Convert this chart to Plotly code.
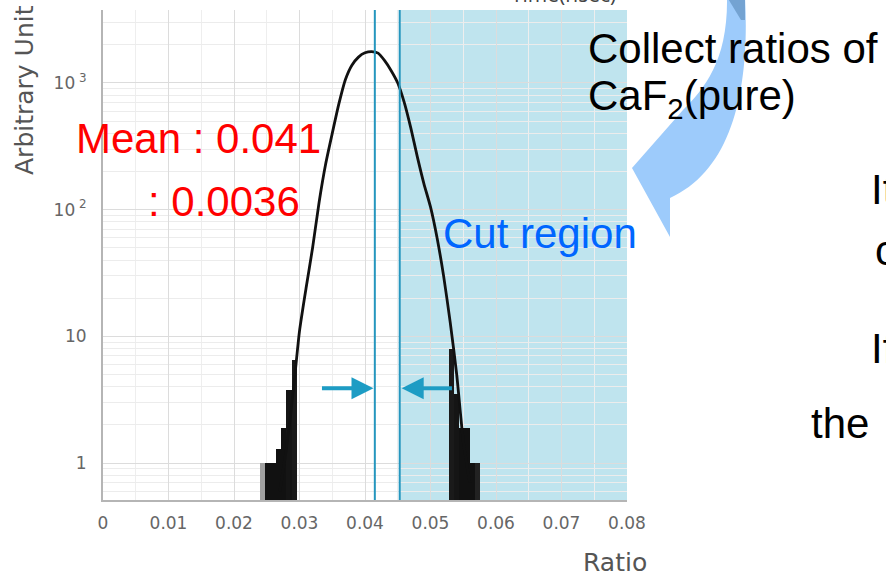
import plotly.graph_objects as go
import numpy as np

# ---------------- data ----------------
ratio = [0.027, 0.028, 0.029, 0.030, 0.031, 0.032, 0.033, 0.034, 0.035, 0.036,
         0.037, 0.038, 0.039, 0.040, 0.041, 0.042, 0.043, 0.044, 0.045, 0.046,
         0.047, 0.048, 0.049, 0.050, 0.051, 0.052, 0.053, 0.054, 0.055, 0.056]
counts = [0.6, 1.3, 3.5, 11, 24, 50, 115, 230, 400, 680,
          1060, 1380, 1600, 1730, 1770, 1720, 1500, 1250, 1000, 700,
          440, 260, 160, 105, 60, 30, 13, 5, 1.5, 0.7]

# tail bins (width 0.0008) drawn as thick histogram steps
tail_ratio = [0.0244, 0.0252, 0.0260, 0.0268, 0.0276, 0.0284, 0.0292,
              0.0532, 0.0540, 0.0548, 0.0556, 0.0564, 0.0572]
tail_counts = [1, 1, 1, 1.3, 1.9, 3.8, 6.5,
               8, 3.5, 1.9, 1.9, 1, 1]
tail_colors = ["#a0a0a0", "#111111", "#111111", "#111111", "#111111", "#151515", "#1a1a1a",
               "#1a1a1a", "#151515", "#111111", "#111111", "#111111", "#222222"]

cut_low = 0.0415
cut_high = 0.0453
x_max = 0.08
arrow_level = 3.9
arrow_left_tail = 0.0332
arrow_right_tail = 0.0535

x_ticks = [0, 0.01, 0.02, 0.03, 0.04, 0.05, 0.06, 0.07, 0.08]
x_ticktext = ["0", "0.01", "0.02", "0.03", "0.04", "0.05", "0.06", "0.07", "0.08"]
y_ticks = [1, 10, 100, 1000]
y_ticktext = ["1", "10", "10<sup> 2</sup>", "10<sup> 3</sup>"]
y_minor = [0.6, 0.7, 0.8, 0.9, 2, 3, 4, 5, 6, 7, 8, 9, 20, 30, 40, 50, 60, 70, 80, 90,
           200, 300, 400, 500, 600, 700, 800, 900, 2000, 3000]

# ---------------- geometry helpers ----------------
W, H = 886, 573
L, R, T, B = 103, 627, 10, 500


def px(x):
    return (x - L) / (R - L)


def py(y):
    return (B - y) / (B - T)


fig = go.Figure()

fig.add_trace(go.Bar(x=tail_ratio, y=tail_counts, width=0.0008,
                     marker=dict(color=tail_colors, line=dict(width=0)),
                     showlegend=False, hoverinfo="skip"))
fig.add_trace(go.Scatter(x=ratio, y=counts, mode="lines",
                         line=dict(color="#111111", width=2.8, shape="spline", smoothing=0.6),
                         showlegend=False))

# cut region shading
fig.add_shape(type="rect", xref="x", yref="paper", x0=cut_high, x1=x_max, y0=0, y1=1,
              fillcolor="#bfe4ee", line=dict(width=0), layer="below")
for xv in (cut_low, cut_high):
    fig.add_shape(type="line", xref="x", yref="paper", x0=xv, x1=xv, y0=0, y1=1,
                  line=dict(color="#2596be", width=2))

# arrows pointing to the cut lines
ylog = np.log10(arrow_level)
fig.add_annotation(x=cut_low - 0.0002, y=ylog, ax=arrow_left_tail, ay=ylog,
                   xref="x", yref="y", axref="x", ayref="y", text="",
                   showarrow=True, arrowhead=2, arrowsize=1.1, arrowwidth=4,
                   arrowcolor="#1d9cc4")
fig.add_annotation(x=cut_high + 0.0003, y=ylog, ax=arrow_right_tail, ay=ylog,
                   xref="x", yref="y", axref="x", ayref="y", text="",
                   showarrow=True, arrowhead=2, arrowsize=1.1, arrowwidth=4,
                   arrowcolor="#1d9cc4")


def P(x, y):
    return f"{px(x):.5f},{py(y):.5f}"


# big curved blue arrow (slide decoration)
path = (f"M {P(727,-3)} L {P(745,-3)} C {P(750,90)} {P(732,170)} {P(670,198)} "
        f"L {P(670,237)} L {P(632,168)} L {P(683,110)} C {P(705,88)} {P(728,60)} {P(727,-3)} Z")
fig.add_shape(type="path", xref="paper", yref="paper", path=path,
              fillcolor="#9dcbfb", line=dict(width=0), layer="above")
fig.add_shape(type="path", xref="paper", yref="paper",
              path=f"M {P(727,-3)} L {P(745,-3)} L {P(745,20)} L {P(741,20)} Z",
              fillcolor="#74a3d2", line=dict(width=0), layer="above")

slide_font = "Liberation Sans, Arial, sans-serif"


def text(x, y, s, color="black", size=42, xanchor="left", family=slide_font, angle=0):
    fig.add_annotation(x=px(x), y=py(y), xref="paper", yref="paper", text=s,
                       showarrow=False, xanchor=xanchor, yanchor="middle",
                       textangle=angle, font=dict(family=family, size=size, color=color))


text(74, 138, "Mean : 0.041", color="#ff0000")
text(146, 201, ": 0.0036", color="#ff0000")
text(441, 233, "Cut region", color="#0066ff")
text(586, 48, "Collect ratios of")
text(586, 99, "CaF<sub>2</sub>(pure)")
text(869, 189, "It")
text(873, 250, "c")
text(869, 348, "If")
text(809, 423, "the")
text(563, -6, "Time(nsec)", color="#444444", size=21, xanchor="center", family="Open Sans")
text(25, 90, "Arbitrary Unit", color="#555555", size=25, xanchor="center",
     family="DejaVu Sans", angle=-90)
text(615, 562, "Ratio", color="#555555", size=25, xanchor="center", family="DejaVu Sans")

fig.update_layout(
    width=W, height=H,
    margin=dict(l=L, r=W - R, t=T, b=H - B, pad=0),
    paper_bgcolor="white", plot_bgcolor="white",
    bargap=0,
    xaxis=dict(range=[0, x_max], tickvals=x_ticks, ticktext=x_ticktext,
               showgrid=True, gridcolor="#dcdcdc", gridwidth=1,
               minor=dict(showgrid=True, gridcolor="#eeeeee", dtick=0.005),
               showline=True, linecolor="#b5b5b5", linewidth=2,
               ticks="", zeroline=False, automargin=False, ticklabelstandoff=7,
               tickfont=dict(family="DejaVu Sans", size=17, color="#666666")),
    yaxis=dict(type="log", range=[-0.292, 3.576], tickvals=y_ticks, ticktext=y_ticktext,
               showgrid=True, gridcolor="#dcdcdc", gridwidth=1,
               minor=dict(showgrid=True, gridcolor="#ececec", tickvals=y_minor),
               showline=True, linecolor="#b5b5b5", linewidth=2,
               ticks="", zeroline=False, automargin=False, ticklabelstandoff=11,
               tickfont=dict(family="DejaVu Sans", size=17, color="#666666")),
)

fig.write_html("out.html", config={"displayModeBar": False},
               post_script="document.body.style.margin='0';document.body.style.padding='0';")
